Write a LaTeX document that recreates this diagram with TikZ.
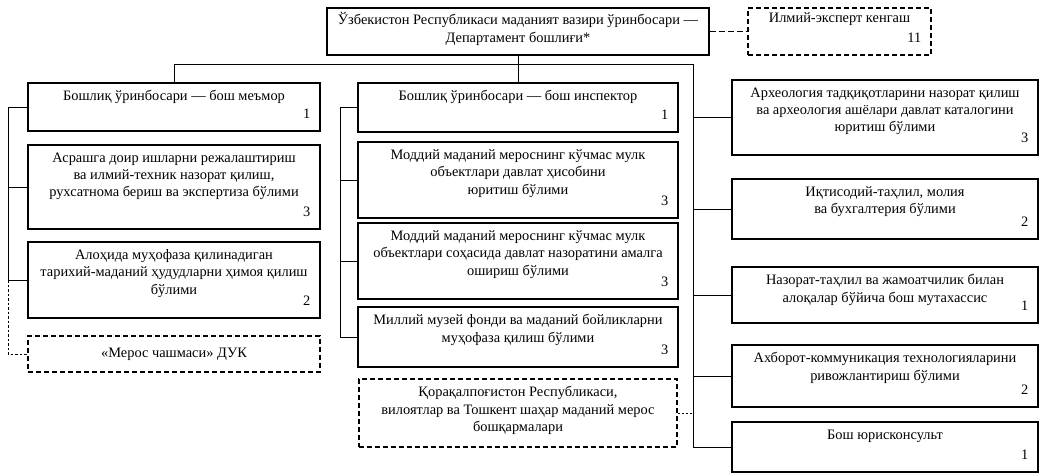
\documentclass[tikz,border=0pt]{standalone}
\usepackage{fontspec}
\setmainfont{Liberation Serif}
\usetikzlibrary{positioning}

\tikzset{
  unit/.style 2 args={draw, line width=1.1pt, minimum width=#1, minimum height=#2, inner sep=0pt},
  title/.style={label={[anchor=north, align=center, inner sep=0pt, yshift=-8pt]north:{#1}}},
  headtitle/.style={label={[anchor=north, align=center, inner sep=0pt, yshift=-5pt]north:{#1}}},
  num/.style={label={[anchor=base east, inner sep=0pt, xshift=-10pt, yshift=13pt]south east:{#1}}},
  dbox/.style={dash pattern=on 5pt off 3pt},
  link/.style={line width=0.8pt},
}

\begin{document}
\begin{tikzpicture}[x=1pt, y=-1pt, node distance=80pt, on grid,
  font=\fontsize{14.4}{17.3}\selectfont]
\useasboundingbox (0,0) rectangle (1046,475);

% head and council
\node[unit={382pt}{47pt}, headtitle={Ўзбекистон Республикаси маданият вазири ўринбосари —\\Департамент бошлиғи*}] (head) at (518,31.5) {};
\node[unit={183pt}{47pt}, dbox, headtitle={Илмий-эксперт кенгаш}, num=11] (council) at (839.5,31.5) {};

% left column
\node[unit={292pt}{48pt}, title={Бошлиқ ўринбосари — бош меъмор}, num=1] (l1) at (174,107) {};
\node[unit={292pt}{84pt}, title={Асрашга доир ишларни режалаштириш\\ва илмий-техник назорат қилиш,\\рухсатнома бериш ва экспертиза бўлими}, num=3] (l2) [below=80pt of l1] {};
\node[unit={292pt}{76pt}, title={Алоҳида муҳофаза қилинадиган\\тарихий-маданий ҳудудларни ҳимоя қилиш\\бўлими}, num=2] (l3) [below=93pt of l2] {};
\node[unit={292pt}{36pt}, dbox] (l4) [below=74pt of l3] {«Мерос чашмаси» ДУК};

% middle column
\node[unit={320pt}{49pt}, title={Бошлиқ ўринбосари — бош инспектор}, num=1] (m1) at (518,107.5) {};
\node[unit={320pt}{76pt}, title={Моддий маданий мероснинг кўчмас мулк\\объектлари давлат ҳисобини\\юритиш бўлими}, num=3] (m2) [below=72.5pt of m1] {};
\node[unit={320pt}{76pt}, title={Моддий маданий мероснинг кўчмас мулк\\объектлари соҳасида давлат назоратини амалга\\ошириш бўлими}, num=3] (m3) [below=81pt of m2] {};
\node[unit={320pt}{60pt}, title={Миллий музей фонди ва маданий бойликларни\\муҳофаза қилиш бўлими}, num=3] (m4) [below=76pt of m3] {};
\node[unit={318pt}{68pt}, dbox, title={Қорақалпоғистон Республикаси,\\вилоятлар ва Тошкент шаҳар маданий мерос\\бошқармалари}] (m5) [below=76pt of m4] {};

% right column
\node[unit={306pt}{75pt}, title={Археология тадқиқотларини назорат қилиш\\ва археология ашёлари давлат каталогини\\юритиш бўлими}, num=3] (r1) at (885,117.5) {};
\node[unit={306pt}{60pt}, title={Иқтисодий-таҳлил, молия\\ва бухгалтерия бўлими}, num=2] (r2) [below=91.5pt of r1] {};
\node[unit={306pt}{56pt}, title={Назорат-таҳлил ва жамоатчилик билан\\алоқалар бўйича бош мутахассис}, num=1] (r3) [below=86pt of r2] {};
\node[unit={306pt}{62pt}, title={Ахборот-коммуникация технологияларини\\ривожлантириш бўлими}, num=2] (r4) [below=81pt of r3] {};
\node[unit={306pt}{50pt}, title={Бош юрисконсульт}, num=1] (r5) [below=71pt of r4] {};

% spines
\coordinate (lsp) at (8,0);
\coordinate (msp) at (340,0);
\coordinate (rsp) at (693,64);

\draw[link] (head.south) -- (m1.north);
\draw[link] (l1.north) |- (rsp) -- (rsp |- r5.west) -- (r5.west);
\foreach \n in {r1,r2,r3,r4}
  \draw[link] (rsp |- \n.west) -- (\n.west);
\draw[link] (l1.west) -| (lsp |- l3.west) -- (l3.west);
\draw[link] (lsp |- l2.west) -- (l2.west);
\draw[link, dash pattern=on 2.5pt off 2pt] (lsp |- l3.west) |- (l4.west);
\draw[link] (m1.west) -| (msp |- m4.west) -- (m4.west);
\foreach \n in {m2,m3}
  \draw[link] (msp |- \n.west) -- (\n.west);
\draw[link, dash pattern=on 2pt off 2pt] (m5.east) -- (m5.east -| rsp);
\draw[link, dash pattern=on 6pt off 3pt] (head.east) -- (council.west);
\end{tikzpicture}
\end{document}
